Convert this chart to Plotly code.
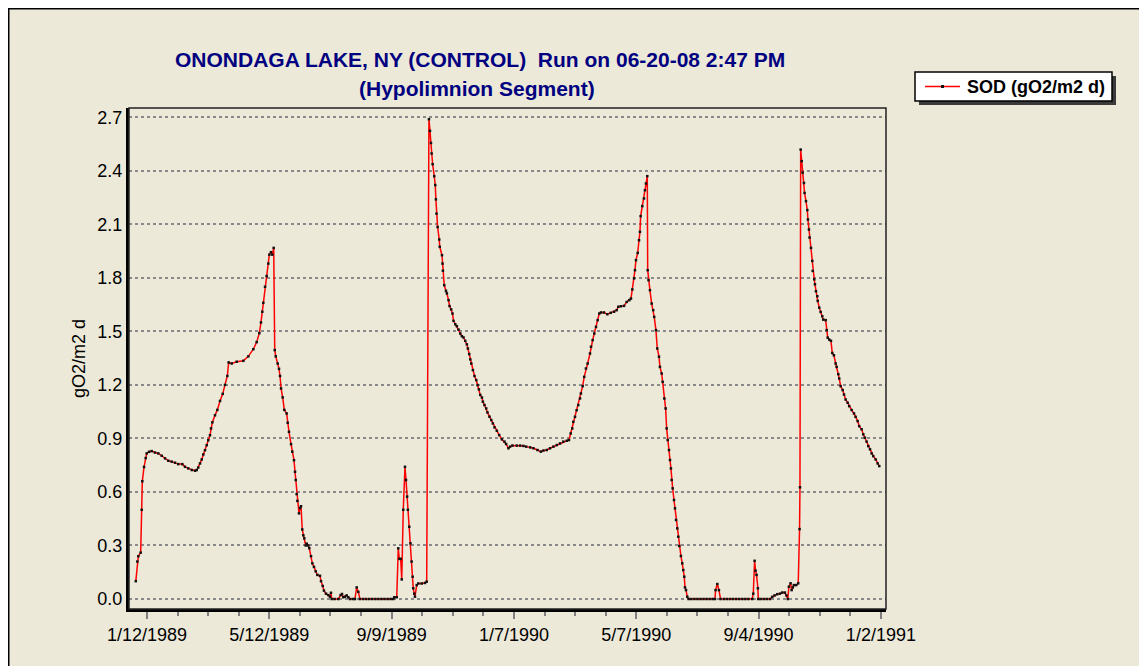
import pandas as pd
import plotly.graph_objects as go

# Simulation day (days after 1/1/1989) and SOD value
day = [
    0, 1.5, 2.5, 4.8, 5.8, 6.4, 8.1, 9.7, 10.7, 13,
    15.6, 18.8, 22.1, 25.4, 28.7, 31.9, 35.2, 38.5, 41.7, 45.6,
    48.3, 51.5, 54.9, 58.1, 59.8, 61.3, 63, 64.7, 66.2, 67.9,
    69.6, 71.1, 72.8, 73.8, 75.1, 77.7, 80, 82.6, 85.3, 87.5,
    89.8, 91.1, 94.1, 99, 105.5, 110.4, 115.3, 118.6, 121.2, 122.8,
    124.1, 125.1, 126.8, 128.4, 130, 131, 132.6, 133.9, 135.3, 136.3,
    137.3, 139.2, 140.5, 141.5, 142.5, 144.1, 145.7, 148, 149, 150.3,
    152.3, 153.5, 155.2, 156.2, 156.9, 157.8, 158.5, 160.1, 161.1, 162.1,
    163.3, 164.3, 165.3, 166.7, 167.7, 169.2, 170.2, 171.9, 173.2, 174.8,
    176.5, 178.1, 180.7, 181.7, 183.4, 184.6, 186.6, 188.9, 190.5, 191.5,
    192.2, 195, 198.7, 201, 202.3, 203.6, 205.2, 206.9, 208.5, 210.1,
    213, 215, 216.7, 218.3, 219.9, 223, 226, 229, 232, 235,
    238, 241, 244, 247, 250, 252.6, 253.6, 256, 257.5, 258.5,
    259.9, 260.9, 262.4, 264.1, 265.1, 266.2, 266.9, 268.3, 269.5, 270.6,
    271.6, 272.2, 273.2, 273.9, 275.6, 277.2, 280.5, 283.7, 285.4, 287.6,
    288.6, 289.6, 290.2, 291.2, 292.8, 293.8, 294.4, 295, 296.1, 297.7,
    298.2, 300.4, 300.9, 301.3, 302.6, 304.3, 305.2, 306.8, 307.8, 309.4,
    310.7, 311.7, 313.4, 315, 316.6, 318.3, 319.9, 321.5, 323.2, 324.8,
    325.8, 327.1, 328.1, 329.1, 330.7, 332.3, 334, 335.3, 336.6, 337.9,
    339.6, 340.5, 342.1, 343.8, 345, 347, 348.7, 350.3, 351.9, 354.2,
    356.5, 359.1, 361.7, 363.3, 365.6, 367.2, 369.5, 373.8, 377.1, 380.3,
    383, 386.9, 390.1, 394.1, 397.4, 399.9, 403.2, 406.4, 409.7, 413,
    416.2, 419.4, 422.8, 425, 426.7, 428.2, 429.2, 430.9, 432.5, 434.1,
    435.8, 436.7, 438.4, 439.9, 441.6, 443.3, 445.6, 446.6, 448.2, 449.8,
    451.5, 453.1, 454.7, 456.4, 459.3, 462.6, 465.9, 469.2, 471.8, 473.4,
    476, 479, 481.6, 484.2, 485.8, 487.1, 488.8, 489.7, 490.7, 492.4,
    493.7, 494.6, 495.3, 496.9, 498.6, 499.5, 500.5, 501.8, 502.2, 503,
    504.4, 506.1, 507.6, 508.6, 510.3, 511.6, 513.3, 514.2, 515.9, 516.9,
    518.5, 519.8, 520.8, 521.8, 523.1, 524.1, 525, 525.7, 526.7, 528,
    529, 530, 531.2, 532.2, 533.2, 534.8, 536.1, 537.1, 538.1, 538.8,
    539.8, 541, 542.4, 545, 548, 551, 554, 557, 560, 563,
    566, 568.2, 568.8, 570.5, 572.1, 573.7, 577, 580, 583, 586,
    589, 592, 595, 598, 601, 604.8, 605.8, 607.1, 608, 609,
    610.3, 610.7, 613, 616, 619, 622.1, 624.4, 626.7, 629.3, 631.9,
    634.2, 636.8, 638.4, 639.7, 640.7, 642.4, 643.4, 644.6, 645.6, 648,
    649.9, 651.2, 651.6, 652.3, 653.3, 654.2, 655.5, 656.1, 657.5, 658.8,
    659.4, 660.4, 661, 662.4, 663.7, 664.1, 665.6, 666.3, 667.3, 668.6,
    669, 670.5, 671.9, 673.5, 674.4, 676.8, 677.8, 678.8, 680.3, 682,
    683.3, 684.9, 686.6, 687.6, 689.2, 690.1, 691.5, 693.5, 694.8, 696.4,
    698.4, 699.9, 702.3, 704.6, 706.2, 708.2, 709.7, 712.1, 713.7, 715.3,
    717, 718.6, 720.3, 721.9, 723.5, 725.9, 727.8, 729.4,
]
sod = [
    0.10, 0.21, 0.24, 0.26, 0.50, 0.66, 0.74, 0.79, 0.816, 0.825,
    0.829, 0.821, 0.816, 0.803, 0.788, 0.775, 0.77, 0.764, 0.756, 0.756,
    0.741, 0.732, 0.723, 0.719, 0.723, 0.737, 0.76, 0.782, 0.81, 0.834,
    0.862, 0.89, 0.918, 0.956, 0.99, 1.03, 1.06, 1.11, 1.15, 1.20,
    1.25, 1.326, 1.32, 1.33, 1.335, 1.36, 1.40, 1.44, 1.49, 1.55,
    1.61, 1.66, 1.75, 1.81, 1.88, 1.93, 1.944, 1.93, 1.968, 1.395,
    1.36, 1.32, 1.29, 1.25, 1.18, 1.13, 1.06, 1.04, 0.988, 0.937,
    0.868, 0.826, 0.778, 0.713, 0.667, 0.588, 0.55, 0.48, 0.51, 0.52,
    0.39, 0.357, 0.34, 0.30, 0.31, 0.30, 0.285, 0.24, 0.20, 0.18,
    0.155, 0.135, 0.13, 0.10, 0.073, 0.047, 0.03, 0.022, 0.013, 0.035,
    0, 0, 0, 0.022, 0.028, 0.01, 0.013, 0.02, 0.01, 0,
    0, 0, 0.065, 0.04, 0, 0, 0, 0, 0, 0,
    0, 0, 0, 0, 0, 0, 0.01, 0.01, 0.284, 0.225,
    0.225, 0.11, 0.50, 0.741, 0.667, 0.574, 0.50, 0.405, 0.312, 0.21,
    0.125, 0.06, 0.03, 0.013, 0.078, 0.087, 0.087, 0.09, 0.097, 2.689,
    2.624, 2.556, 2.497, 2.437, 2.37, 2.32, 2.24, 2.16, 2.085, 2.015,
    1.974, 1.927, 1.88, 1.84, 1.759, 1.727, 1.713, 1.675, 1.642, 1.623,
    1.60, 1.559, 1.54, 1.529, 1.51, 1.488, 1.473, 1.466, 1.447, 1.427,
    1.404, 1.373, 1.343, 1.32, 1.283, 1.25, 1.227, 1.199, 1.175, 1.144,
    1.129, 1.106, 1.087, 1.068, 1.046, 1.022, 1.003, 0.984, 0.962, 0.943,
    0.919, 0.895, 0.882, 0.869, 0.845, 0.854, 0.86, 0.86, 0.86, 0.858,
    0.854, 0.85, 0.845, 0.835, 0.826, 0.832, 0.835, 0.845, 0.854, 0.863,
    0.872, 0.882, 0.887, 0.891, 0.928, 0.956, 0.993, 1.021, 1.058, 1.087,
    1.124, 1.152, 1.193, 1.245, 1.292, 1.32, 1.376, 1.414, 1.451, 1.488,
    1.525, 1.563, 1.60, 1.606, 1.606, 1.596, 1.604, 1.61, 1.619, 1.638,
    1.641, 1.643, 1.665, 1.675, 1.684, 1.735, 1.797, 1.843, 1.899, 1.94,
    2.011, 2.058, 2.146, 2.202, 2.245, 2.291, 2.329, 2.37, 1.843, 1.787,
    1.731, 1.656, 1.619, 1.581, 1.507, 1.404, 1.358, 1.301, 1.264, 1.217,
    1.124, 1.068, 0.956, 0.891, 0.835, 0.779, 0.732, 0.667, 0.62, 0.555,
    0.508, 0.443, 0.396, 0.349, 0.297, 0.241, 0.20, 0.162, 0.125, 0.065,
    0.05, 0.013, 0, 0, 0, 0, 0, 0, 0, 0,
    0, 0, 0.05, 0.084, 0.05, 0, 0, 0, 0, 0,
    0, 0, 0, 0, 0, 0, 0.03, 0.214, 0.159, 0.135,
    0.06, 0, 0, 0, 0, 0, 0.012, 0.02, 0.027, 0.03,
    0.036, 0.036, 0.02, 0, 0.069, 0.088, 0.05, 0.065, 0.078, 0.078,
    0.088, 0.392, 0.626, 2.519, 2.454, 2.39, 2.332, 2.276, 2.23, 2.18,
    2.127, 2.071, 2.026, 1.968, 1.895, 1.839, 1.792, 1.764, 1.725, 1.697,
    1.671, 1.633, 1.609, 1.585, 1.566, 1.563, 1.507, 1.465, 1.454, 1.447,
    1.379, 1.366, 1.32, 1.301, 1.26, 1.236, 1.193, 1.171, 1.146, 1.118,
    1.10, 1.081, 1.059, 1.04, 1.021, 0.997, 0.969, 0.951, 0.923, 0.904,
    0.882, 0.857, 0.839, 0.816, 0.801, 0.782, 0.76, 0.745,
]
assert len(day) == len(sod)

series_name = 'SOD (gO2/m2 d)'
tick_dates = ['1989-01-12', '1989-05-12', '1989-09-09', '1990-01-07',
              '1990-05-07', '1990-09-04', '1991-01-02']
tick_labels = ['1/12/1989', '5/12/1989', '9/9/1989', '1/7/1990',
               '5/7/1990', '9/4/1990', '1/2/1991']
y_ticks = [0.0, 0.3, 0.6, 0.9, 1.2, 1.5, 1.8, 2.1, 2.4, 2.7]

# Geometry: the page body has an 8px margin, so the figure starts at (8, 8)
OFF = 8
W, H = 1147 - OFF, 666 - OFF
L, R, T, B = 121, 261, 100, 57
BG = '#ECE9D8'
FONT = 'Liberation Sans, Arial, sans-serif'
RED = '#FF0000'

# page pixel -> paper coordinate
def px(x):
    return (x - OFF - L) / (W - L - R)

def py(y):
    return (H - B - (y - OFF)) / (H - T - B)

def paper_rect(x0, y0, x1, y1, **kw):
    return dict(type='rect', xref='paper', yref='paper',
                x0=px(x0), x1=px(x1), y0=py(y1), y1=py(y0), **kw)

x = pd.Timestamp('1989-01-01') + pd.to_timedelta(day, unit='D')

fig = go.Figure()
fig.add_trace(go.Scatter(x=x, y=sod, mode='lines+markers', name=series_name,
                         line=dict(color=RED, width=1.5),
                         marker=dict(symbol='square', size=2.5, color='#111111')))

shapes = [
    # panel border (top and left)
    dict(type='line', xref='paper', yref='paper', x0=px(8), x1=px(1147), y0=py(8.5), y1=py(8.5),
         line=dict(color='black', width=2)),
    dict(type='line', xref='paper', yref='paper', x0=px(8.5), x1=px(8.5), y0=py(8), y1=py(666),
         line=dict(color='black', width=2)),
    # plot frame
    dict(type='rect', xref='paper', yref='paper', x0=0, x1=1, y0=0, y1=1,
         line=dict(color='#222222', width=1.5)),
    # legend box with shadow
    paper_rect(919, 76, 1116, 105, fillcolor='#3a3a3a', line_width=0),
    paper_rect(915, 72, 1112, 101, fillcolor='white', line=dict(color='black', width=1.5)),
    dict(type='line', xref='paper', yref='paper', x0=px(925), x1=px(960), y0=py(86.5), y1=py(86.5),
         line=dict(color=RED, width=1.5)),
    paper_rect(941, 85, 944, 88, fillcolor='#111111', line_width=0),
]

title_font = dict(family=FONT, size=21, color='#000080', weight='bold')
annotations = [
    dict(text='ONONDAGA LAKE, NY (CONTROL)\u00a0\u00a0Run on 06-20-08 2:47 PM', x=px(480), y=py(60),
         xref='paper', yref='paper', showarrow=False, font=title_font, xanchor='center', yanchor='middle'),
    dict(text='(Hypolimnion Segment)', x=px(477), y=py(88),
         xref='paper', yref='paper', showarrow=False, font=title_font, xanchor='center', yanchor='middle'),
    dict(text=series_name, x=px(965), y=py(86.5), xref='paper', yref='paper', showarrow=False,
         font=dict(family=FONT, size=18, color='black', weight='bold'), xanchor='left', yanchor='middle'),
]

fig.update_layout(
    width=W, height=H,
    margin=dict(l=L, r=R, t=T, b=B, autoexpand=False),
    paper_bgcolor=BG, plot_bgcolor=BG,
    font=dict(family=FONT, size=18, color='black'),
    shapes=shapes, annotations=annotations,
    showlegend=False,
)

fig.update_xaxes(type='date',
                 range=['1988-12-25 08:00', '1991-01-07'],
                 tickmode='array', tickvals=tick_dates, ticktext=tick_labels,
                 ticks='outside', ticklen=7, tickwidth=1.5, tickcolor='#808080',
                 minor=dict(tickmode='linear', tick0='1989-01-12', dtick=30 * 86400000,
                            ticks='outside', ticklen=4, tickwidth=1.5, tickcolor='#808080'),
                 showline=True, linewidth=3, linecolor='black',
                 showgrid=False, zeroline=False,
                 tickfont=dict(size=18))

fig.update_yaxes(range=[-0.056, 2.752],
                 tickmode='array', tickvals=y_ticks, ticktext=[f'{v:.1f}' for v in y_ticks],
                 showgrid=True, gridcolor='#8a8a8a', gridwidth=1.5, griddash='dot',
                 showline=True, linewidth=3, linecolor='black',
                 zeroline=False, ticks='',
                 tickfont=dict(size=18),
                 title=dict(text='gO2/m2 d', font=dict(size=18), standoff=8))

fig.write_html("out.html")
